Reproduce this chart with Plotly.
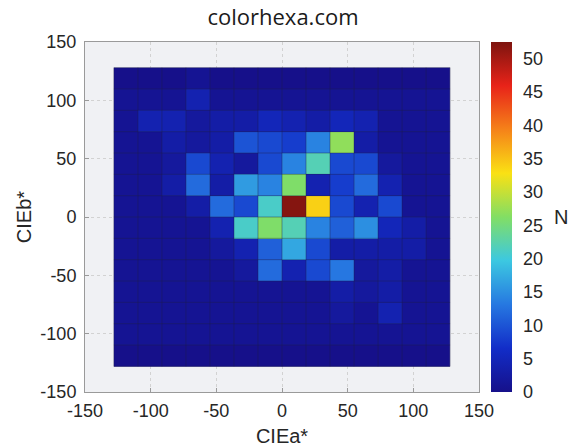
import numpy as np
import plotly.graph_objects as go

# 14 x 14 histogram of CIE a*, b* (bins from -128 to 128)
bin_edges = np.linspace(-128, 128, 15)
a_centers = (bin_edges[:-1] + bin_edges[1:]) / 2
b_centers = (bin_edges[:-1] + bin_edges[1:]) / 2

# counts, rows listed from top (b high) to bottom (b low), columns a low -> high
counts_top_to_bottom = [
    [0, 0, 0, 1, 0, 0, 0, 0, 0, 0, 0, 0, 0, 0],
    [1, 1, 1, 4, 1, 1, 1, 1, 1, 1, 1, 1, 1, 1],
    [1, 4, 4, 2, 3, 3, 5, 4, 3, 5, 4, 1, 1, 1],
    [1, 1, 3, 2, 3, 10, 9, 8, 14, 27, 3, 1, 1, 1],
    [1, 1, 2, 9, 4, 2, 9, 14, 22, 9, 9, 2, 1, 1],
    [1, 1, 3, 12, 3, 16, 14, 26, 4, 8, 12, 4, 1, 1],
    [1, 1, 1, 3, 12, 9, 21, 52, 34, 9, 4, 9, 1, 1],
    [1, 1, 1, 1, 4, 21, 26, 22, 14, 11, 15, 5, 3, 1],
    [1, 1, 1, 1, 2, 4, 11, 17, 9, 3, 3, 3, 3, 1],
    [1, 1, 1, 1, 1, 2, 12, 4, 9, 13, 2, 3, 1, 1],
    [1, 1, 1, 1, 1, 1, 1, 1, 1, 3, 2, 3, 1, 1],
    [1, 1, 1, 1, 1, 1, 1, 1, 1, 2, 1, 4, 1, 1],
    [1, 1, 1, 1, 1, 1, 1, 1, 1, 1, 1, 1, 1, 1],
    [0, 0, 0, 0, 0, 0, 0, 0, 0, 0, 0, 0, 0, 0],
]
z = counts_top_to_bottom[::-1]

axis_ticks = [-150, -100, -50, 0, 50, 100, 150]
axis_ticktext = ["-150", "-100", "-50", "0", "50", "100", "150"]
cbar_ticks = [0, 5, 10, 15, 20, 25, 30, 35, 40, 45, 50]

# muted jet-like colormap
jet = [
    [0.0, "rgb(22,16,138)"],
    [0.125, "rgb(18,45,200)"],
    [0.25, "rgb(38,120,225)"],
    [0.375, "rgb(60,200,225)"],
    [0.5, "rgb(130,222,100)"],
    [0.625, "rgb(250,225,20)"],
    [0.75, "rgb(245,130,25)"],
    [0.875, "rgb(232,35,25)"],
    [1.0, "rgb(125,20,15)"],
]

W, H = 572, 448
L, R, T, B = 85, 93, 42, 56
pw = W - L - R
FONT = "Liberation Sans, Arial, sans-serif"

fig = go.Figure()
fig.add_trace(go.Heatmap(
    x=a_centers, y=b_centers, z=z,
    colorscale=jet, zmin=0, zmax=52.5,
    showscale=True,
    colorbar=dict(
        x=1 + (491 - (W - R)) / pw, xanchor="left", xpad=0,
        y=0.5, yanchor="middle", ypad=0, len=1, lenmode="fraction",
        thickness=21, outlinewidth=0,
        tickvals=cbar_ticks, ticks="outside", ticklen=8, tickcolor="rgba(0,0,0,0)",
        tickfont=dict(family=FONT, size=18, color="#262626"),
    ),
    hoverinfo="skip",
))

# cell edge lines
shapes = []
for e in bin_edges:
    shapes.append(dict(type="line", xref="x", yref="y", x0=e, x1=e,
                       y0=bin_edges[0], y1=bin_edges[-1],
                       line=dict(color="rgba(30,30,70,0.4)", width=1)))
    shapes.append(dict(type="line", xref="x", yref="y", y0=e, y1=e,
                       x0=bin_edges[0], x1=bin_edges[-1],
                       line=dict(color="rgba(30,30,70,0.4)", width=1)))

axis_common = dict(
    range=[-150, 150], tickvals=axis_ticks, ticktext=axis_ticktext,
    showgrid=True, gridcolor="#d2d2d2", griddash="dot", gridwidth=1,
    zeroline=False, showline=True, linecolor="#9a9a9a", linewidth=1,
    mirror=True, ticks="inside", ticklen=4, tickcolor="#9a9a9a",
    tickfont=dict(family=FONT, size=18, color="#262626"),
    automargin=False,
)

fig.update_layout(
    width=W, height=H,
    margin=dict(l=L, r=R, t=T, b=B, autoexpand=False),
    paper_bgcolor="white", plot_bgcolor="#f0f1f4",
    title=dict(text="colorhexa.com", x=283 / W, xanchor="center", y=1 - 17 / H, yanchor="middle",
               font=dict(family="Open Sans, sans-serif", size=22, color="#1a1a1a")),
    xaxis=dict(axis_common, ticklabelstandoff=2, title=dict(text="CIEa*", standoff=9,
               font=dict(family=FONT, size=20, color="#262626"))),
    yaxis=dict(axis_common, ticklabelstandoff=4, title=dict(text="CIEb*", standoff=3,
               font=dict(family=FONT, size=20, color="#262626"))),
    shapes=shapes,
    annotations=[dict(text="N", xref="paper", yref="paper", x=1 + (561 - (W - R)) / pw, y=0.5,
                      xanchor="center", yanchor="middle", showarrow=False,
                      font=dict(family=FONT, size=20, color="#262626"))],
)

fig.write_html("out.html")
